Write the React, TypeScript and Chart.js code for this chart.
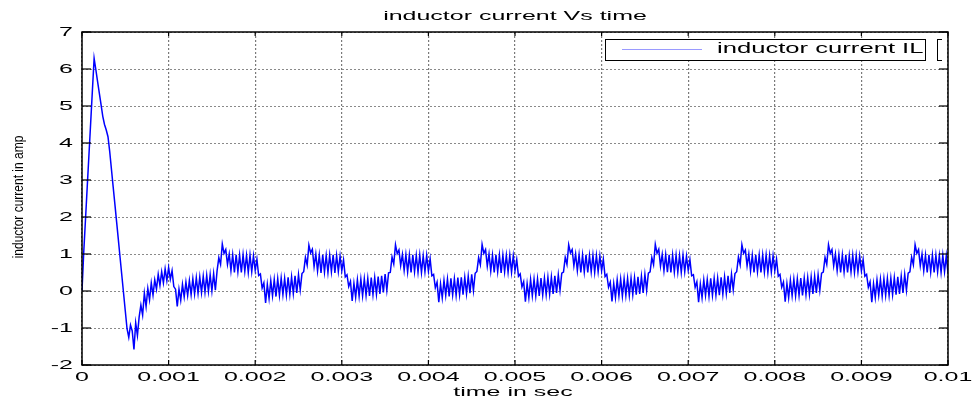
import React, { useEffect, useRef } from 'react';
import { Chart, registerables } from 'chart.js';

Chart.register(...registerables);

// ---------- text ----------
const TITLE = 'inductor current Vs time';
const X_LABEL = 'time in sec';
const Y_LABEL = 'inductor current in amp';
const SERIES_LABEL = 'inductor current IL';

// ---------- axes ----------
const X_MIN = 0;
const X_MAX = 0.01;
const X_STEP = 0.001;
const Y_MIN = -2;
const Y_MAX = 7;
const Y_STEP = 1;
const X_TICK_LABELS = ['0', '0.001', '0.002', '0.003', '0.004', '0.005', '0.006', '0.007', '0.008', '0.009', '0.01'];
const Y_TICK_LABELS = ['-2', '-1', '0', '1', '2', '3', '4', '5', '6', '7'];

// ---------- data (sampled every SAMPLE_STEP seconds) ----------
const SAMPLE_STEP = 0.00002;

const startupCurrent = [
  0, 1.05, 1.92, 2.8, 3.67, 4.54, 5.42, 6.29, 5.98, 5.66,
  5.35, 5.04, 4.72, 4.5, 4.35, 4.17, 3.77, 3.29, 2.81, 2.34,
  1.86, 1.38, 0.9, 0.42, -0.06, -0.54, -1.02, -1.25, -0.92, -1.08,
  -1.58, -0.86, -1.2, -0.7, -0.38, -0.65, -0.06, -0.42, 0.07, -0.24,
  0.22, -0.11, 0.3, 0.05, 0.45, 0.15, 0.52, 0.22, 0.6, 0.28,
  0.63, 0.32, 0.55, 0.12, 0.05, -0.42, 0.05, -0.25, 0.18, -0.16,
  0.24, -0.12, 0.28, -0.1, 0.33, -0.08, 0.36, -0.06, 0.38, -0.04,
  0.4, -0.03, 0.42, -0.01, 0.44, 0.0, 0.47, 0.02,
];

const cycle1Current = [
  0.55, 0.9, 0.72, 1.27, 1.02, 1.12, 0.72, 1.0, 0.55, 0.98,
  0.5, 0.98, 0.52, 0.97, 0.5, 0.98, 0.53, 0.96, 0.5, 0.97,
  0.52, 0.95, 0.56, 0.86, 0.42, 0.46, 0.08, 0.22, -0.32, 0.18,
  -0.2, 0.28, -0.13, 0.31, -0.15, 0.33, -0.12, 0.35, -0.1, 0.34,
  -0.11, 0.37, -0.09, 0.38, -0.07, 0.41, -0.05, 0.44, 0.03, 0.47,
];
const cycle2Current = [
  0.52, 0.91, 0.7, 1.24, 1.03, 1.13, 0.66, 1.0, 0.54, 0.97,
  0.49, 0.98, 0.51, 0.96, 0.5, 0.97, 0.52, 0.98, 0.49, 0.96,
  0.53, 0.94, 0.55, 0.84, 0.38, 0.44, 0.12, 0.26, -0.27, 0.21,
  -0.17, 0.3, -0.14, 0.32, -0.13, 0.33, -0.12, 0.34, -0.13, 0.36,
  -0.1, 0.36, -0.09, 0.39, -0.08, 0.41, -0.04, 0.46, 0.02, 0.49,
];
const cycle3Current = [
  0.5, 0.92, 0.73, 1.25, 1.01, 1.11, 0.69, 0.99, 0.56, 0.98,
  0.51, 0.97, 0.5, 0.98, 0.52, 0.96, 0.51, 0.97, 0.5, 0.95,
  0.52, 0.96, 0.54, 0.87, 0.41, 0.45, 0.09, 0.24, -0.3, 0.19,
  -0.19, 0.29, -0.12, 0.32, -0.15, 0.34, -0.11, 0.33, -0.12, 0.36,
  -0.1, 0.37, -0.1, 0.37, -0.07, 0.4, -0.06, 0.45, 0.01, 0.48,
];
const cycle4Current = [
  0.53, 0.9, 0.71, 1.26, 1.02, 1.12, 0.67, 1.0, 0.54, 0.97,
  0.5, 0.98, 0.52, 0.97, 0.49, 0.97, 0.52, 0.96, 0.51, 0.97,
  0.51, 0.95, 0.55, 0.85, 0.4, 0.46, 0.11, 0.25, -0.29, 0.2,
  -0.18, 0.31, -0.13, 0.32, -0.13, 0.33, -0.13, 0.35, -0.11, 0.35,
  -0.1, 0.37, -0.09, 0.38, -0.08, 0.41, -0.05, 0.44, 0.02, 0.48,
];
const cycle5Current = [
  0.51, 0.91, 0.72, 1.25, 1.03, 1.12, 0.68, 1.0, 0.55, 0.98,
  0.5, 0.97, 0.51, 0.98, 0.5, 0.96, 0.52, 0.97, 0.5, 0.96,
  0.52, 0.95, 0.55, 0.86, 0.39, 0.45, 0.1, 0.24, -0.28, 0.2,
  -0.18, 0.3, -0.13, 0.32, -0.14, 0.33, -0.12, 0.34, -0.12, 0.35,
  -0.1, 0.36, -0.1, 0.38, -0.08, 0.4, -0.05, 0.45, 0.02, 0.48,
];
const cycle6Current = [
  0.52, 0.9, 0.71, 1.26, 1.02, 1.13, 0.67, 0.99, 0.55, 0.98,
  0.51, 0.98, 0.5, 0.97, 0.51, 0.97, 0.51, 0.96, 0.5, 0.97,
  0.52, 0.94, 0.56, 0.85, 0.41, 0.44, 0.1, 0.25, -0.3, 0.19,
  -0.18, 0.3, -0.12, 0.31, -0.14, 0.34, -0.12, 0.34, -0.11, 0.35,
  -0.11, 0.37, -0.09, 0.38, -0.07, 0.41, -0.05, 0.45, 0.03, 0.47,
];
const cycle7Current = [
  0.52, 0.92, 0.71, 1.25, 1.02, 1.11, 0.68, 1.0, 0.54, 0.97,
  0.5, 0.98, 0.52, 0.97, 0.5, 0.97, 0.51, 0.97, 0.5, 0.96,
  0.51, 0.95, 0.55, 0.86, 0.4, 0.45, 0.1, 0.24, -0.29, 0.2,
  -0.18, 0.29, -0.13, 0.32, -0.13, 0.33, -0.12, 0.35, -0.12, 0.35,
  -0.1, 0.36, -0.09, 0.38, -0.08, 0.4, -0.05, 0.44, 0.02, 0.48,
];
const cycle8Current = [
  0.51, 0.91, 0.72, 1.25, 1.02, 1.12, 0.68, 1.0, 0.55, 0.98,
  0.5, 0.97, 0.51, 0.98, 0.5, 0.96, 0.52, 0.97, 0.5, 0.96,
  0.52, 0.95, 0.55, 0.85, 0.4, 0.45, 0.1, 0.25, -0.3, 0.2,
  -0.18, 0.3, -0.12, 0.32, -0.14, 0.33, -0.12, 0.34, -0.12, 0.35,
  -0.1, 0.36, -0.1, 0.38, -0.08, 0.4, -0.05, 0.45, 0.02, 0.48,
];
const lastCycleCurrent = [
  0.52, 0.91, 0.71, 1.25, 1.02, 1.12, 0.68, 1.0, 0.55, 0.97,
  0.5, 0.98, 0.51, 0.97, 0.5, 0.97, 0.52, 0.96, 0.5, 0.97,
  0.52, 0.95, 0.48,
];

const inductorCurrent = [
  ...startupCurrent,
  ...cycle1Current,
  ...cycle2Current,
  ...cycle3Current,
  ...cycle4Current,
  ...cycle5Current,
  ...cycle6Current,
  ...cycle7Current,
  ...cycle8Current,
  ...lastCycleCurrent,
];

// ---------- look ----------
const W = 978;
const H = 403;
const PLOT_LEFT = 82;
const PLOT_RIGHT = 948;
const PLOT_TOP = 32;
const PLOT_BOTTOM = 365;
const FONT = '"Liberation Sans", Arial, Helvetica, sans-serif';
const SX = 1.85;

function drawStretched(ctx: CanvasRenderingContext2D, text: string, x: number, y: number, align: CanvasTextAlign, size: number, sx: number) {
  ctx.save();
  ctx.translate(x, y);
  ctx.scale(sx, 1);
  ctx.font = `${size}px ${FONT}`;
  ctx.textAlign = align;
  ctx.textBaseline = 'middle';
  ctx.fillStyle = '#000';
  ctx.fillText(text, 0, 0);
  ctx.restore();
}

function line(ctx: CanvasRenderingContext2D, x1: number, y1: number, x2: number, y2: number) {
  ctx.beginPath();
  ctx.moveTo(x1, y1);
  ctx.lineTo(x2, y2);
  ctx.stroke();
}

const matlabFrame = {
  id: 'matlabFrame',
  afterDraw(chart: any) {
    const ctx: CanvasRenderingContext2D = chart.ctx;
    const { left, right, top, bottom } = chart.chartArea;
    const xs = chart.scales.x;
    const ys = chart.scales.y;
    ctx.save();
    // box
    ctx.strokeStyle = '#000';
    ctx.lineWidth = 1.5;
    ctx.strokeRect(left, top, right - left, bottom - top);
    ctx.lineWidth = 1.2;
    // inward ticks + labels
    xs.ticks.forEach((t: any, i: number) => {
      const x = xs.getPixelForValue(t.value);
      line(ctx, x, bottom, x, bottom - 5);
      line(ctx, x, top, x, top + 4);
      const lab = X_TICK_LABELS[i];
      if (lab !== undefined) drawStretched(ctx, lab, x, bottom + 12, 'center', 13.5, SX);
    });
    ys.ticks.forEach((t: any, i: number) => {
      const y = ys.getPixelForValue(t.value);
      line(ctx, left, y, left + 9, y);
      line(ctx, right, y, right - 9, y);
      const lab = Y_TICK_LABELS[i];
      if (lab !== undefined) drawStretched(ctx, lab, left - 9, y, 'right', 13.5, SX);
    });
    // title & axis titles
    drawStretched(ctx, TITLE, (left + right) / 2, 16, 'center', 13.5, SX);
    drawStretched(ctx, X_LABEL, (left + right) / 2 - 2, 392, 'center', 13.5, SX);
    ctx.save();
    ctx.translate(19, 197);
    ctx.rotate(-Math.PI / 2);
    ctx.scale(0.8, 1);
    ctx.font = `15px ${FONT}`;
    ctx.textAlign = 'center';
    ctx.textBaseline = 'middle';
    ctx.fillStyle = '#000';
    ctx.fillText(Y_LABEL, 0, 0);
    ctx.restore();
    // legend
    const lx = 605.5, ly = 39.5, lw = 320, lh = 21;
    ctx.fillStyle = '#fff';
    ctx.fillRect(lx, ly, lw, lh);
    ctx.strokeStyle = '#000';
    ctx.lineWidth = 1;
    ctx.strokeRect(lx, ly, lw, lh);
    ctx.strokeStyle = '#9a9aff';
    ctx.lineWidth = 1.2;
    line(ctx, 622, 49.5, 702, 49.5);
    const label = chart.data.datasets[0].label;
    drawStretched(ctx, label, 717, 49, 'left', 14, 1.83);
    // bracket at right of legend
    ctx.strokeStyle = '#000';
    ctx.lineWidth = 1;
    line(ctx, 937.5, 39, 937.5, 61);
    line(ctx, 937.5, 39.5, 942, 39.5);
    line(ctx, 937.5, 60.5, 942, 60.5);
    ctx.restore();
  },
};

export default function App() {
  const ref = useRef<HTMLCanvasElement | null>(null);
  useEffect(() => {
    if (!ref.current) return;
    const points = inductorCurrent.map((v, i) => ({ x: i * SAMPLE_STEP, y: v }));
    const chart = new Chart(ref.current, {
      type: 'line',
      data: {
        datasets: [
          {
            label: SERIES_LABEL,
            data: points,
            borderColor: '#0000ff',
            borderWidth: 1.5,
            pointRadius: 0,
            tension: 0,
            fill: false,
          },
        ],
      },
      options: {
        responsive: false,
        animation: false,
        devicePixelRatio: 1,
        events: [],
        layout: { padding: { left: 0, right: W - PLOT_RIGHT, top: PLOT_TOP, bottom: 0 } },
        plugins: { legend: { display: false }, title: { display: false }, tooltip: { enabled: false } },
        scales: {
          x: {
            type: 'linear',
            min: X_MIN,
            max: X_MAX,
            ticks: { stepSize: X_STEP, display: false },
            grid: { color: '#7a7a7a', lineWidth: 1.2, drawTicks: false },
            border: { display: false, dash: [2, 2] },
            afterFit: (s: any) => { s.height = H - PLOT_BOTTOM; },
          },
          y: {
            type: 'linear',
            min: Y_MIN,
            max: Y_MAX,
            ticks: { stepSize: Y_STEP, display: false },
            grid: { color: '#8a8a8a', lineWidth: 1, drawTicks: false },
            border: { display: false, dash: [2, 2] },
            afterFit: (s: any) => { s.width = PLOT_LEFT; },
          },
        },
      } as any,
      plugins: [matlabFrame],
    });
    return () => chart.destroy();
  }, []);
  return (
    <div style={{ position: 'absolute', left: 0, top: 0, width: W, height: H, background: '#fff' }}>
      <canvas ref={ref} width={W} height={H} style={{ display: 'block' }} />
    </div>
  );
}
